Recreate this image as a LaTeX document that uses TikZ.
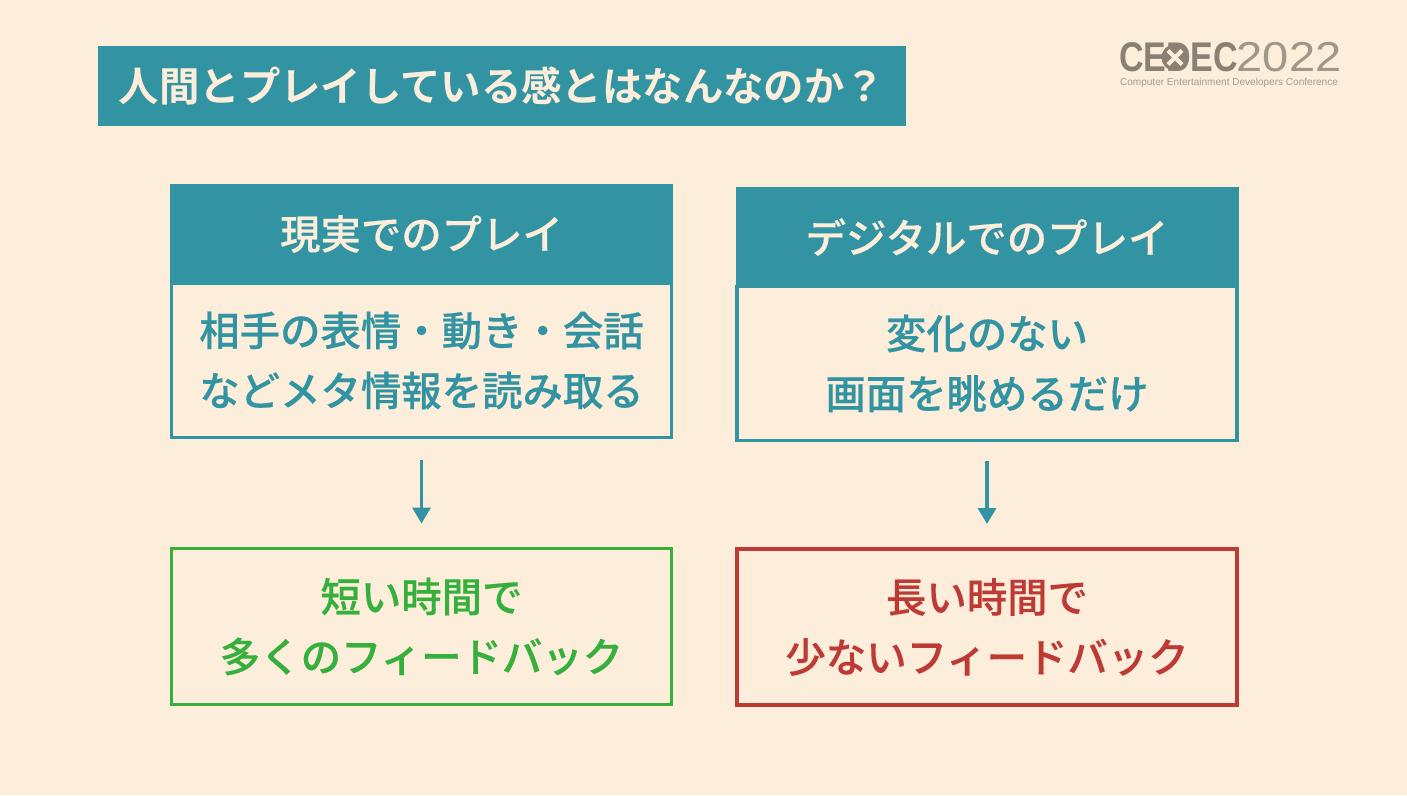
\documentclass[tikz,border=0pt]{standalone}
\usepackage{fontspec}
\setmainfont{Noto Sans CJK JP}[BoldFont={Noto Sans CJK JP Medium},BoldFeatures={FakeBold=0.35}]
\newfontfamily\titlefont{Noto Sans CJK JP Bold}
\newfontfamily\logofont{Liberation Sans}
\usetikzlibrary{arrows.meta,positioning}
\definecolor{bgc}{RGB}{253,238,219}
\definecolor{teal}{RGB}{50,148,162}
\definecolor{gbox}{RGB}{54,176,60}
\definecolor{rbox}{RGB}{190,58,52}
\definecolor{logoc}{RGB}{138,128,116}
\tikzset{
  every node/.style={inner sep=0pt,outer sep=0pt},
  head/.style={fill=teal,draw=none,text=bgc,font=\fontsize{40.4pt}{46pt}\selectfont\bfseries,minimum width=503pt,align=center},
  bodybox/.style={draw=teal,line width=3.5pt,text=teal,font=\fontsize{40.4pt}{60pt}\selectfont\bfseries,minimum width=500pt,align=center},
  resultbox/.style={line width=3.5pt,font=\fontsize{40.4pt}{60pt}\selectfont\bfseries,minimum width=500pt,minimum height=156pt,align=center},
  good/.style={resultbox,draw=gbox,text=gbox},
  bad/.style={resultbox,draw=rbox,text=rbox},
  flow/.style={draw=teal,line width=3.5pt,shorten <=22pt,shorten >=25pt,-{Triangle[length=16pt,width=18pt]}},
}
\begin{document}
\begin{tikzpicture}[x=1pt,y=-1pt]
\useasboundingbox (0,0) rectangle (1407,795);
\fill[bgc] (0,0) rectangle (1407,795);
\node[fill=teal,text=bgc,font=\titlefont\fontsize{40.4pt}{48pt}\selectfont,minimum width=808pt,minimum height=80pt] (title) at (502,86) {人間とプレイしている感とはなんなのか？};
\node[font=\logofont\bfseries\fontsize{34pt}{35pt}\selectfont,text=logoc,yscale=1.22] (logoa) at (1178.5,57.5) {CEDEC};
\fill[logoc] (1175,57.5) circle (13.5pt);
\draw[bgc,line width=4pt] (1168,50.5) -- (1182,64.5) (1182,50.5) -- (1168,64.5);
\node[font=\logofont\fontsize{44pt}{45pt}\selectfont,text=logoc!80!bgc,xscale=1.07,yscale=0.95] (logob) at (1289,57.5) {2022};
\node[font=\logofont\fontsize{10.05pt}{10pt}\selectfont,text=logoc!75!bgc] (logoc) at (1229,82.5) {Computer Entertainment Developers Conference};

\node[head,minimum height=100pt] (h1) at (421.5,234) {現実でのプレイ};
\node[bodybox,minimum height=154pt] (b1) at (421.5,360.5) {相手の表情・動き・会話\\などメタ情報を読み取る};
\node[good] (r1) at (421.5,626.5) {短い時間で\\多くのフィードバック};

\node[head,minimum height=100pt] (h2) at (987,237) {デジタルでのプレイ};
\node[bodybox,minimum height=154pt] (b2) at (987,363.5) {変化のない\\画面を眺めるだけ};
\node[bad] (r2) at (987,627) {長い時間で\\少ないフィードバック};

\draw[flow] (b1) -- (r1);
\draw[flow,shorten <=20pt] (b2) -- (r2);
\end{tikzpicture}
\end{document}
